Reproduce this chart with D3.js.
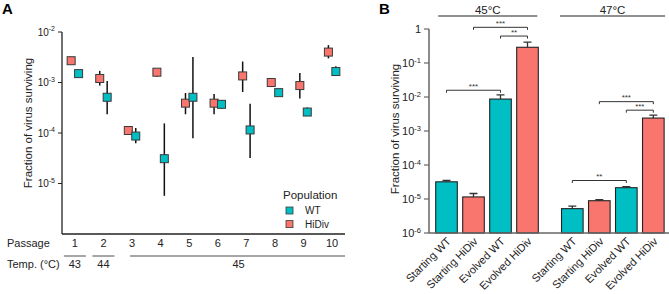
<!DOCTYPE html>
<html>
<head>
<meta charset="utf-8">
<script src="https://cdn.jsdelivr.net/npm/d3@7"></script>
<style>
  html, body { margin: 0; padding: 0; background: #fff; }
  svg { display: block; font-family: "Liberation Sans", Arial, sans-serif; }
</style>
</head>
<body>
<svg id="chart" width="669" height="294"></svg>
<script>
// ---------- Panel A data ----------
const passages = [1, 2, 3, 4, 5, 6, 7, 8, 9, 10];
const wtVal = [1.5e-3, 5.1e-4, 8.7e-5, 3.1e-5, 5.1e-4, 3.7e-4, 1.15e-4, 6.3e-4, 2.6e-4, 1.65e-3];
const wtLo  = [1.4e-3, 2.35e-4, 6.3e-5, 5.7e-6, 7.9e-5, 3.0e-4, 3.2e-5, 6.0e-4, 2.3e-4, 1.35e-3];
const wtHi  = [1.6e-3, 1.07e-3, 1.26e-4, 1.55e-4, 3.2e-3, 4.5e-4, 3.8e-4, 6.6e-4, 3.2e-4, 2.1e-3];
const hdVal = [2.7e-3, 1.2e-3, 1.12e-4, 1.6e-3, 3.9e-4, 3.9e-4, 1.35e-3, 1.0e-3, 8.7e-4, 4.0e-3];
const hdLo  = [2.6e-3, 8.7e-4, 1.08e-4, 1.3e-3, 2.35e-4, 2.35e-4, 6.5e-4, 0.97e-3, 4.8e-4, 3.0e-3];
const hdHi  = [2.8e-3, 1.7e-3, 1.16e-4, 1.85e-3, 6.2e-4, 5.9e-4, 2.6e-3, 1.03e-3, 1.55e-3, 5.5e-3];
const yTicksA = [1e-5, 1e-4, 1e-3, 1e-2];
const tempGroups = [
  { label: "43", from: 1, to: 1 },
  { label: "44", from: 2, to: 2 },
  { label: "45", from: 3, to: 10 }
];
const populations = ["WT", "HiDiv"];

// ---------- Panel B data ----------
const barLabels = ["Starting WT", "Starting HiDiv", "Evolved WT", "Evolved HiDiv"];
const barPop = ["WT", "HiDiv", "WT", "HiDiv"];
const groups = ["45°C", "47°C"];
const bar45 = [3.2e-5, 1.15e-5, 8.7e-3, 0.29];
const err45 = [3.5e-5, 1.45e-5, 1.15e-2, 0.41];
const bar47 = [5.2e-6, 8.9e-6, 2.15e-5, 2.4e-3];
const err47 = [6.2e-6, 9.5e-6, 2.3e-5, 2.95e-3];
const yTicksB = [1e-6, 1e-5, 1e-4, 1e-3, 1e-2, 1e-1, 1];
// significance brackets: group, from bar, to bar, level (data value), label
const sigGroup = [0, 0, 0, 1, 1, 1];
const sigFrom  = [0, 1, 2, 0, 1, 2];
const sigTo    = [2, 3, 3, 2, 3, 3];
const sigLevel = [1.58e-2, 1.12, 0.62, 3.5e-5, 7.3e-3, 4.1e-3];
const sigLabel = ["***", "***", "**", "**", "***", "***"];

const colors = { WT: "#00BFC4", HiDiv: "#F8766D" };

const svg = d3.select("#chart");

// ================= PANEL A =================
const xA = d3.scaleLinear().domain([0.55, 10.45]).range([62, 345]);
const yA = d3.scaleLog().domain([1e-6, 1e-2]).range([234, 32]);
const offA = { HiDiv: -0.13, WT: 0.13 };

svg.append("text").attr("x", 2).attr("y", 14).attr("font-size", 15).attr("font-weight", "bold").text("A");

const gA = svg.append("g");
gA.append("line").attr("x1", xA.range()[0]).attr("x2", xA.range()[0])
  .attr("y1", yA.range()[1]).attr("y2", yA.range()[0]).attr("stroke", "#222").attr("stroke-width", 1.3);
gA.append("line").attr("x1", xA.range()[0]).attr("x2", xA.range()[1])
  .attr("y1", yA.range()[0]).attr("y2", yA.range()[0]).attr("stroke", "#222").attr("stroke-width", 1.3);

const ytA = gA.selectAll(".ytA").data(yTicksA).enter().append("g");
ytA.append("line").attr("x1", 58).attr("x2", 62).attr("y1", d => yA(d)).attr("y2", d => yA(d))
  .attr("stroke", "#222").attr("stroke-width", 1);
const ytAText = ytA.append("text").attr("x", 55).attr("y", d => yA(d) + 3.5).attr("text-anchor", "end")
  .attr("font-size", 10).attr("fill", "#222");
ytAText.append("tspan").text("10");
ytAText.append("tspan").attr("dy", -4.5).attr("font-size", 7).text(d => String(Math.round(Math.log10(d))));

svg.append("text").attr("transform", `translate(31.5,${(yA.range()[0] + yA.range()[1]) / 2 - 10}) rotate(-90)`)
  .attr("text-anchor", "middle").attr("font-size", 11.5).attr("fill", "#222").text("Fraction of virus surviving");

gA.append("text").attr("x", 7).attr("y", 247).attr("font-size", 11).attr("fill", "#222").text("Passage");
gA.selectAll(".xtA").data(passages).enter().append("text")
  .attr("x", d => xA(d)).attr("y", 247).attr("text-anchor", "middle")
  .attr("font-size", 11).attr("fill", "#222").text(d => d);

gA.append("text").attr("x", 7).attr("y", 268).attr("font-size", 11).attr("fill", "#222").text("Temp. (°C)");
gA.selectAll(".tl").data(tempGroups).enter().append("line")
  .attr("x1", d => xA(d.from) - (d.from === d.to ? 11 : 2))
  .attr("x2", d => d.to === 10 ? xA.range()[1] : xA(d.to) + 11)
  .attr("y1", 256).attr("y2", 256).attr("stroke", "#888").attr("stroke-width", 1.5);
gA.selectAll(".tt").data(tempGroups).enter().append("text")
  .attr("x", d => d.from === d.to ? xA(d.from) : (xA(d.from) + xA.range()[1]) / 2)
  .attr("y", 268).attr("text-anchor", "middle").attr("font-size", 11).attr("fill", "#222").text(d => d.label);

function seriesA(vals, lo, hi) {
  return passages.map((p, i) => ({ p, v: vals[i], lo: lo[i], hi: hi[i] }));
}
const sA = [
  { pop: "HiDiv", data: seriesA(hdVal, hdLo, hdHi) },
  { pop: "WT", data: seriesA(wtVal, wtLo, wtHi) }
];
sA.forEach(s => {
  gA.selectAll(null).data(s.data).enter().append("line")
    .attr("x1", d => xA(d.p + offA[s.pop])).attr("x2", d => xA(d.p + offA[s.pop]))
    .attr("y1", d => yA(d.lo)).attr("y2", d => yA(d.hi))
    .attr("stroke", "#111").attr("stroke-width", 1.5);
});
sA.forEach(s => {
  gA.selectAll(null).data(s.data).enter().append("rect")
    .attr("x", d => xA(d.p + offA[s.pop]) - 4).attr("y", d => yA(d.v) - 4)
    .attr("width", 8).attr("height", 8)
    .attr("fill", colors[s.pop]).attr("stroke", "#3a3a3a").attr("stroke-width", 1);
});

const leg = svg.append("g");
leg.append("text").attr("x", 283).attr("y", 199).attr("font-size", 11.5).attr("fill", "#222").text("Population");
const li = leg.selectAll(".li").data(populations).enter().append("g")
  .attr("transform", (d, i) => `translate(286,${207 + i * 13.6})`);
li.append("rect").attr("width", 7).attr("height", 7).attr("fill", d => colors[d])
  .attr("stroke", "#3a3a3a").attr("stroke-width", 0.8);
li.append("text").attr("x", 19).attr("y", 7).attr("font-size", 10).attr("fill", "#222").text(d => d);

// ================= PANEL B =================
const yB = d3.scaleLog().domain([1e-6, 1]).range([233, 29]);
const groupGap = 0.66;
const xB = d3.scaleLinear().domain([0, 1]).range([446.5, 473.5]);
const barW = 21.6;
const barPos = (g, i) => xB(g * (barLabels.length + groupGap) + i);

svg.append("text").attr("x", 379).attr("y", 14).attr("font-size", 15).attr("font-weight", "bold").text("B");

const gB = svg.append("g");
const axisX0 = 429;

const barsData = [];
groups.forEach((g, gi) => {
  const vals = gi === 0 ? bar45 : bar47;
  const errs = gi === 0 ? err45 : err47;
  barLabels.forEach((lab, i) => barsData.push({ g: gi, i, lab, pop: barPop[i], v: vals[i], e: errs[i] }));
});

gB.selectAll(".eb").data(barsData).enter().append("path")
  .attr("d", d => {
    const cx = barPos(d.g, d.i);
    return `M${cx},${yB(d.v)}V${yB(d.e)}M${cx - 4},${yB(d.e)}H${cx + 4}`;
  })
  .attr("stroke", "#333").attr("stroke-width", 1.3).attr("fill", "none");

gB.selectAll(".bar").data(barsData).enter().append("rect")
  .attr("x", d => barPos(d.g, d.i) - barW / 2)
  .attr("y", d => yB(d.v))
  .attr("width", barW)
  .attr("height", d => yB.range()[0] - yB(d.v))
  .attr("fill", d => colors[d.pop]).attr("stroke", "#222").attr("stroke-width", 1.1);

gB.append("line").attr("x1", axisX0).attr("x2", axisX0).attr("y1", yB.range()[1]).attr("y2", yB.range()[0])
  .attr("stroke", "#666").attr("stroke-width", 1.5);
gB.append("line").attr("x1", axisX0).attr("x2", 669).attr("y1", yB.range()[0]).attr("y2", yB.range()[0])
  .attr("stroke", "#666").attr("stroke-width", 1.5);

const ytB = gB.selectAll(".ytB").data(yTicksB).enter().append("g");
ytB.append("line").attr("x1", 424).attr("x2", axisX0).attr("y1", d => yB(d)).attr("y2", d => yB(d))
  .attr("stroke", "#666").attr("stroke-width", 1.2);
const ytBText = ytB.append("text").attr("x", 421).attr("y", d => yB(d) + 4).attr("text-anchor", "end")
  .attr("font-size", 11).attr("fill", "#222");
ytBText.append("tspan").text(d => d === 1 ? "1" : "10");
ytBText.append("tspan").attr("dy", -4.5).attr("font-size", 7.5)
  .text(d => d === 1 ? "" : String(Math.round(Math.log10(d))));

svg.append("text").attr("transform", `translate(399,${(yB.range()[0] + yB.range()[1]) / 2 - 2}) rotate(-90)`)
  .attr("text-anchor", "middle").attr("font-size", 11.5).attr("fill", "#222").text("Fraction of virus surviving");

gB.selectAll(".xl").data(barsData).enter().append("text")
  .attr("transform", d => `translate(${barPos(d.g, d.i) + 5},${yB.range()[0] + 9}) rotate(-45)`)
  .attr("text-anchor", "end").attr("font-size", 11).attr("fill", "#222").text(d => d.lab);

groups.forEach((g, gi) => {
  const x0 = barPos(gi, 0) - barW / 2 - (gi === 0 ? -2.5 : 1.5);
  const x1 = barPos(gi, barLabels.length - 1) + barW / 2 + (gi === 0 ? -1 : 1);
  gB.append("line").attr("x1", x0).attr("x2", x1).attr("y1", 16).attr("y2", 16)
    .attr("stroke", "#222").attr("stroke-width", 1.2);
  gB.append("text").attr("x", (x0 + x1) / 2).attr("y", 13.5).attr("text-anchor", "middle")
    .attr("font-size", 11.5).attr("fill", "#222").text(g);
});

sigGroup.forEach((g, k) => {
  const xa = barPos(g, sigFrom[k]), xb = barPos(g, sigTo[k]);
  const y = yB(sigLevel[k]);
  gB.append("path").attr("d", `M${xa},${y + 2.5}V${y}H${xb}V${y + 2.5}`)
    .attr("stroke", "#333").attr("stroke-width", 1).attr("fill", "none");
  gB.append("text").attr("x", (xa + xb) / 2).attr("y", y - 1.5).attr("text-anchor", "middle")
    .attr("font-size", 8).attr("fill", "#333").text(sigLabel[k]);
});
</script>
</body>
</html>
